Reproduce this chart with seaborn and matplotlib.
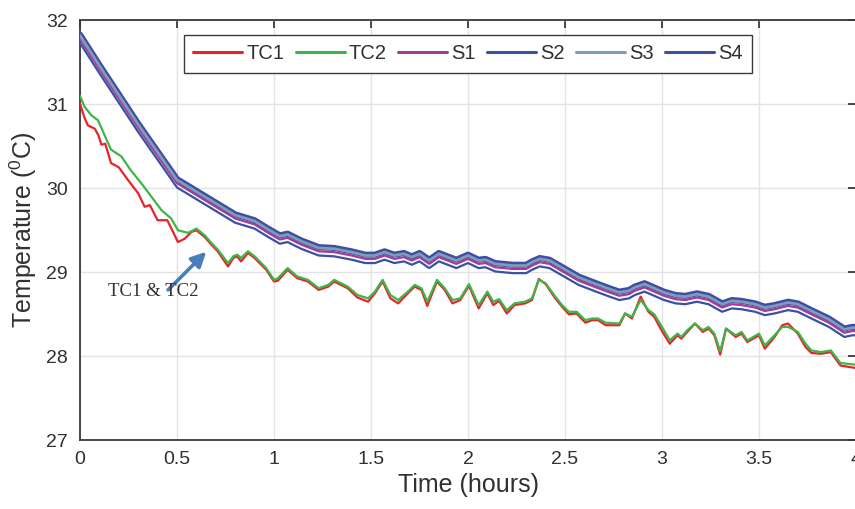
import matplotlib
matplotlib.use("Agg")
import matplotlib.pyplot as plt
from matplotlib.lines import Line2D
import seaborn as sns

# ---------------- data ----------------
t_tc = [0.0, 0.024, 0.058, 0.093, 0.127, 0.16, 0.213, 0.26, 0.316, 0.368, 0.42, 0.47,
        0.505, 0.557, 0.60, 0.643, 0.677, 0.71, 0.763, 0.79, 0.81, 0.83, 0.866, 0.90,
        0.96, 1.0, 1.02, 1.07, 1.12, 1.175, 1.23, 1.28, 1.31, 1.38, 1.43, 1.485, 1.52,
        1.56, 1.60, 1.64, 1.69, 1.725, 1.76, 1.79, 1.84, 1.88, 1.92, 1.96, 2.005, 2.055,
        2.10, 2.13, 2.16, 2.20, 2.24, 2.295, 2.33, 2.365, 2.40, 2.45, 2.485, 2.52, 2.56,
        2.605, 2.64, 2.67, 2.71, 2.78, 2.81, 2.845, 2.89, 2.93, 2.96, 3.0, 3.04, 3.08,
        3.10, 3.13, 3.17, 3.21, 3.24, 3.27, 3.30, 3.33, 3.38, 3.41, 3.44, 3.50, 3.53,
        3.58, 3.62, 3.65, 3.70, 3.74, 3.77, 3.82, 3.87, 3.92, 4.0]

tc2 = [31.10, 30.97, 30.87, 30.81, 30.63, 30.46, 30.38, 30.22, 30.06, 29.90, 29.74, 29.64,
       29.50, 29.47, 29.52, 29.44, 29.35, 29.27, 29.11, 29.19, 29.21, 29.17, 29.25, 29.19,
       29.05, 28.91, 28.93, 29.05, 28.95, 28.91, 28.81, 28.85, 28.91, 28.83, 28.73, 28.69, 28.77,
       28.91, 28.73, 28.67, 28.77, 28.85, 28.81, 28.65, 28.91, 28.81, 28.67, 28.69, 28.86, 28.61,
       28.77, 28.65, 28.68, 28.55, 28.63, 28.65, 28.69, 28.91, 28.87, 28.71, 28.61, 28.53, 28.53,
       28.43, 28.45, 28.45, 28.40, 28.39, 28.51, 28.47, 28.67, 28.55, 28.50, 28.35, 28.19, 28.27,
       28.23, 28.31, 28.39, 28.31, 28.35, 28.27, 28.06, 28.33, 28.25, 28.29, 28.19, 28.27, 28.13,
       28.25, 28.35, 28.35, 28.29, 28.15, 28.07, 28.05, 28.07, 27.92, 27.90]

t_tc1 = [0.0, 0.02, 0.04, 0.076, 0.095, 0.11, 0.13, 0.16, 0.20, 0.247, 0.30, 0.333, 0.36,
         0.40, 0.45, 0.505, 0.54, 0.574,
         0.60, 0.643, 0.677, 0.71, 0.763, 0.79, 0.81, 0.83, 0.866, 0.90,
         0.96, 1.0, 1.02, 1.07, 1.12, 1.175, 1.23, 1.28, 1.31, 1.38, 1.43, 1.485, 1.52,
         1.56, 1.60, 1.64, 1.69, 1.725, 1.76, 1.79, 1.84, 1.88, 1.92, 1.96, 2.005, 2.055,
         2.10, 2.13, 2.16, 2.20, 2.24, 2.295, 2.33, 2.365, 2.40, 2.45, 2.485, 2.52, 2.56,
         2.605, 2.64, 2.67, 2.71, 2.78, 2.81, 2.845, 2.89, 2.93, 2.96, 3.0, 3.04, 3.08,
         3.10, 3.13, 3.17, 3.21, 3.24, 3.27, 3.30, 3.33, 3.38, 3.41, 3.44, 3.50, 3.53,
         3.58, 3.62, 3.65, 3.70, 3.74, 3.77, 3.82, 3.87, 3.92, 4.0]

tc1 = [31.01, 30.86, 30.75, 30.71, 30.63, 30.52, 30.53, 30.30, 30.25, 30.10, 29.94, 29.78, 29.80,
       29.62, 29.62, 29.36, 29.40, 29.48,
       29.50, 29.42, 29.33, 29.25, 29.07, 29.17, 29.19, 29.13, 29.23, 29.17,
       29.03, 28.89, 28.90, 29.03, 28.93, 28.89, 28.79, 28.83, 28.89, 28.81, 28.70, 28.65, 28.75,
       28.89, 28.69, 28.63, 28.75, 28.83, 28.79, 28.60, 28.89, 28.79, 28.63, 28.67, 28.84, 28.57,
       28.75, 28.61, 28.66, 28.51, 28.61, 28.63, 28.67, 28.92, 28.86, 28.69, 28.59, 28.50, 28.51,
       28.40, 28.43, 28.43, 28.37, 28.37, 28.51, 28.45, 28.71, 28.53, 28.47, 28.30, 28.15, 28.25,
       28.21, 28.29, 28.39, 28.29, 28.33, 28.25, 28.02, 28.33, 28.23, 28.27, 28.17, 28.25, 28.09,
       28.23, 28.37, 28.39, 28.27, 28.11, 28.04, 28.03, 28.05, 27.89, 27.86]

t_s = [0.0, 0.1, 0.2, 0.3, 0.4, 0.5, 0.6, 0.7, 0.8, 0.9, 0.97, 1.03, 1.07, 1.14, 1.23, 1.31,
       1.40, 1.47, 1.52, 1.57, 1.62, 1.67, 1.71, 1.75, 1.80, 1.85, 1.94, 2.0, 2.055, 2.09,
       2.14, 2.23, 2.30, 2.33, 2.37, 2.42, 2.48, 2.57, 2.66, 2.73, 2.78, 2.83, 2.86, 2.91,
       2.95, 3.01, 3.07, 3.12, 3.18, 3.24, 3.31, 3.36, 3.41, 3.48, 3.53, 3.58, 3.65, 3.70,
       3.77, 3.86, 3.94, 3.98, 4.0]

s4 = [31.83, 31.47, 31.12, 30.77, 30.44, 30.11, 29.97, 29.83, 29.69, 29.62, 29.52, 29.44, 29.46,
      29.38, 29.30, 29.29, 29.25, 29.21, 29.21, 29.25, 29.21, 29.23, 29.19, 29.23, 29.15, 29.23,
      29.15, 29.21, 29.15, 29.16, 29.11, 29.09, 29.09, 29.13, 29.17, 29.15, 29.07, 28.95, 28.87,
      28.81, 28.77, 28.79, 28.83, 28.87, 28.83, 28.77, 28.73, 28.72, 28.75, 28.72, 28.63, 28.67,
      28.66, 28.63, 28.59, 28.61, 28.65, 28.63, 28.55, 28.45, 28.33, 28.35, 28.35]

s3 = [31.82, 31.46, 31.11, 30.76, 30.43, 30.10, 29.96, 29.82, 29.68, 29.61, 29.51, 29.43, 29.45,
      29.37, 29.29, 29.28, 29.24, 29.20, 29.20, 29.24, 29.20, 29.22, 29.18, 29.22, 29.14, 29.22,
      29.14, 29.20, 29.14, 29.15, 29.10, 29.08, 29.08, 29.12, 29.16, 29.14, 29.06, 28.94, 28.86,
      28.80, 28.76, 28.78, 28.82, 28.86, 28.82, 28.76, 28.72, 28.71, 28.74, 28.71, 28.62, 28.66,
      28.65, 28.62, 28.58, 28.60, 28.64, 28.62, 28.54, 28.44, 28.32, 28.34, 28.34]

s1 = [31.78, 31.42, 31.07, 30.72, 30.39, 30.06, 29.92, 29.78, 29.64, 29.57, 29.47, 29.39, 29.41,
      29.33, 29.25, 29.24, 29.20, 29.16, 29.16, 29.20, 29.16, 29.18, 29.14, 29.18, 29.10, 29.18,
      29.10, 29.16, 29.10, 29.11, 29.06, 29.04, 29.04, 29.08, 29.12, 29.10, 29.02, 28.90, 28.82,
      28.76, 28.72, 28.74, 28.78, 28.82, 28.78, 28.72, 28.68, 28.67, 28.70, 28.67, 28.58, 28.62,
      28.61, 28.58, 28.54, 28.56, 28.60, 28.58, 28.50, 28.40, 28.28, 28.30, 28.30]

s2 = [31.73, 31.37, 31.02, 30.67, 30.34, 30.01, 29.87, 29.73, 29.59, 29.52, 29.42, 29.34, 29.36,
      29.28, 29.20, 29.19, 29.15, 29.11, 29.11, 29.15, 29.11, 29.13, 29.09, 29.13, 29.05, 29.13,
      29.05, 29.11, 29.05, 29.06, 29.01, 28.99, 28.99, 29.03, 29.07, 29.05, 28.97, 28.85, 28.77,
      28.71, 28.67, 28.69, 28.73, 28.77, 28.73, 28.67, 28.63, 28.62, 28.65, 28.62, 28.53, 28.57,
      28.56, 28.53, 28.49, 28.51, 28.55, 28.53, 28.45, 28.35, 28.23, 28.25, 28.25]

series_names = ["TC1", "TC2", "S1", "S2", "S3", "S4"]
x_ticks = [0, 0.5, 1, 1.5, 2, 2.5, 3, 3.5, 4]
x_tick_labels = ["0", "0.5", "1", "1.5", "2", "2.5", "3", "3.5", "4"]
y_ticks = [27, 28, 29, 30, 31, 32]
y_tick_labels = ["27", "28", "29", "30", "31", "32"]

# ---------------- style ----------------
sns.set_theme(style="white")
plt.rcParams["font.family"] = ["Liberation Sans", "DejaVu Sans"]
plt.rcParams["mathtext.fontset"] = "custom"
plt.rcParams["mathtext.rm"] = "Liberation Sans"
plt.rcParams["mathtext.it"] = "Liberation Sans"
plt.rcParams["mathtext.default"] = "regular"

colors = {"TC1": "#e8232a", "TC2": "#3db54a", "S1": "#a13d97",
          "S2": "#3b50a2", "S3": "#819cba", "S4": "#3d4fa3"}
txt = "#303030"

fig = plt.figure(figsize=(8.55, 5.09), dpi=100)
ax = fig.add_axes([80 / 855, (509 - 440.3) / 509, (856 - 80) / 855, (440.3 - 20.3) / 509])

lw = 1.6
sns.lineplot(x=t_s, y=s4, ax=ax, color=colors["S4"], lw=4.4, estimator=None, sort=False, legend=False, zorder=3)
sns.lineplot(x=t_s, y=s3, ax=ax, color=colors["S3"], lw=2.0, estimator=None, sort=False, legend=False, zorder=4)
sns.lineplot(x=t_s, y=s2, ax=ax, color=colors["S2"], lw=lw, estimator=None, sort=False, legend=False, zorder=3)
sns.lineplot(x=t_s, y=s1, ax=ax, color=colors["S1"], lw=lw, estimator=None, sort=False, legend=False, zorder=3)
sns.lineplot(x=t_tc1, y=tc1, ax=ax, color=colors["TC1"], lw=lw, estimator=None, sort=False, legend=False, zorder=3)
sns.lineplot(x=t_tc, y=tc2, ax=ax, color=colors["TC2"], lw=lw, estimator=None, sort=False, legend=False, zorder=4)

ax.set_xlim(0, 4)
ax.set_ylim(27, 32)
ax.set_xticks(x_ticks, x_tick_labels)
ax.set_yticks(y_ticks, y_tick_labels)
ax.grid(True, color="#e3e3e3", lw=1.0)
ax.set_axisbelow(True)
for sp in ax.spines.values():
    sp.set_visible(True)
    sp.set_color("#3a3a3a")
    sp.set_linewidth(1.3)
ax.tick_params(direction="in", length=6, width=1.3, top=True, right=True,
               labelsize=14, color="#3a3a3a", labelcolor=txt)
ax.tick_params(axis="x", pad=8)
ax.tick_params(axis="y", pad=9)

ax.set_xlabel("Time (hours)", fontsize=18, color=txt, labelpad=3)
ax.set_ylabel(r"Temperature ($^{0}$C)", fontsize=18, color=txt, labelpad=5)

handles = [Line2D([], [], color=colors[n], lw=2.2) for n in series_names]
leg = ax.legend(handles, series_names, loc="upper center", ncol=6, fontsize=14.5,
                handlelength=2.45, handletextpad=0.2, columnspacing=0.55,
                frameon=True, fancybox=False, framealpha=1, edgecolor="#3a3a3a",
                borderpad=0.45, borderaxespad=0.75)
leg.get_frame().set_linewidth(1.0)
for t in leg.get_texts():
    t.set_color(txt)

# annotation
ax.annotate("", xy=(0.651, 29.245), xytext=(0.454, 28.79),
            arrowprops=dict(arrowstyle="-|>", color="#4a7ebb", lw=2.6, mutation_scale=22,
                            shrinkA=0, shrinkB=0), zorder=6)
ax.text(0.144, 28.77, "TC1 & TC2", fontsize=13.5, family=["Liberation Serif", "DejaVu Serif"],
        color="#333333", va="center", ha="left", zorder=6)

fig.savefig("out.png", dpi=100)
